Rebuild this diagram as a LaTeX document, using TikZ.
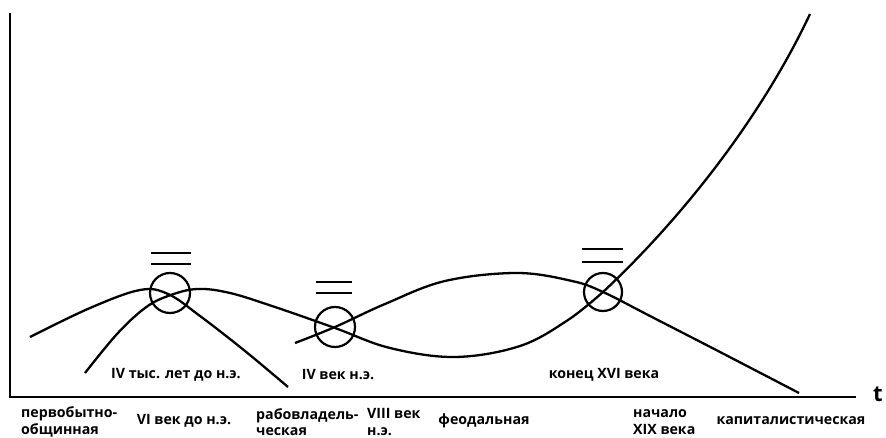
\documentclass[tikz,border=0pt]{standalone}
\usepackage{fontspec}
\setmainfont{Open Sans}
\begin{document}
\begin{tikzpicture}[x=1pt,y=-1pt,
  curve/.style={line width=2.3pt},
  axisline/.style={line width=2.6pt},
  ring/.style={line width=2.2pt},
  lbl/.style={font=\bfseries\fontsize{14.2}{16.5}\selectfont, inner sep=0pt, align=left}]
\useasboundingbox (0,0) rectangle (886,438);
% axes
\coordinate (top) at (10,13);
\coordinate (orig) at (10,397);
\coordinate (xend) at (856,397);
\draw[axisline] (top) -- (orig) -- (xend);
\node[font=\bfseries\fontsize{22}{24}\selectfont, inner sep=0pt] (t) at (878,394) {t};
% curves
\draw[curve] plot[smooth, tension=0.6] coordinates {(30,337) (90,308) (140,290) (168,294) (200,316) (245,351) (288,387)};
\draw[curve] plot[smooth, tension=0.6] coordinates {(85,373) (117,334) (145,308) (168,296) (197,289) (230,293) (275,307) (335,328) (390,348) (455,357) (520,346) (568,320) (603,292)}
   .. controls (680,220) and (760,120) .. (810,14);
\draw[curve] plot[smooth, tension=0.6] coordinates {(295,343) (335,327) (385,304) (445,281) (517,273) (572,281) (603,292) (650,316) (720,352) (799,393)};
% circles
\node[circle, draw, ring, minimum size=40pt, inner sep=0pt] (c1) at (170,293) {};
\node[circle, draw, ring, minimum size=40pt, inner sep=0pt] (c2) at (335,327) {};
\node[circle, draw, ring, minimum size=38pt, inner sep=0pt] (c3) at (603,292) {};
% equals bars
\draw[ring] (151,253) -- (191,253) (151,264) -- (191,264);
\draw[ring] (316,282) -- (352,282) (316,293) -- (352,293);
\draw[ring] (582,249) -- (623,249) (582,262) -- (623,262);
% labels above axis
\node[lbl] (l1) at (176,375) {IV тыс. лет до н.э.};
\node[lbl] (l2) at (338,375) {IV век н.э.};
\node[lbl] (l3) at (604,375) {конец XVI века};
% labels below axis
\node[lbl, anchor=west] (b1) at (21,422) {первобытно-\\общинная};
\node[lbl] (b2) at (184,421) {VI век до н.э.};
\node[lbl, anchor=west] (b3) at (256,422) {рабовладель-\\ческая};
\node[lbl, anchor=west] (b4) at (367,422) {VIII век\\н.э.};
\node[lbl] (b5) at (484,421) {феодальная};
\node[lbl, anchor=west] (b6) at (633,422) {начало\\XIX века};
\node[lbl] (b7) at (791,421) {капиталистическая};
\end{tikzpicture}
\end{document}
